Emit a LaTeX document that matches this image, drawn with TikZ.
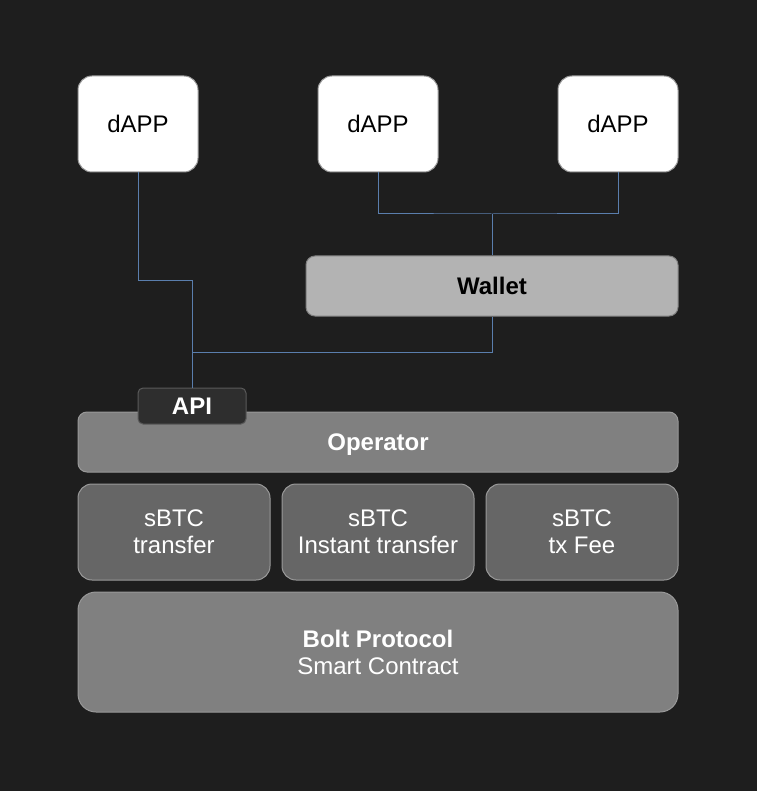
\documentclass[tikz,border=0pt]{standalone}
\usepackage{fontspec}
\setmainfont{Liberation Sans}
\definecolor{bg}{HTML}{1E1E1E}
\definecolor{wire}{HTML}{5A7EAD}
\definecolor{walletfill}{HTML}{B3B3B3}
\definecolor{opfill}{HTML}{808080}
\definecolor{sbtcfill}{HTML}{666666}
\definecolor{apifill}{HTML}{2E2E2E}
\definecolor{edgegray}{HTML}{999999}
\definecolor{darkedge}{HTML}{5A5A5A}
\tikzset{
  box/.style={rectangle, draw=edgegray, line width=1pt, inner sep=0pt, align=center,
    font=\fontsize{24}{27}\selectfont},
  dapp/.style={box, fill=white, text=black, minimum width=120pt, minimum height=96pt, rounded corners=14pt},
  wallet/.style={box, fill=walletfill, draw=opfill, text=black, font=\fontsize{24}{27}\selectfont\bfseries, minimum width=372pt, minimum height=60pt, rounded corners=9pt},
  layer/.style={box, fill=opfill, draw=edgegray, text=white},
  sbtc/.style={box, fill=sbtcfill, draw=edgegray, text=white, minimum width=192pt, minimum height=96pt, rounded corners=14pt},
  apibox/.style={box, fill=apifill, draw=darkedge, text=white, font=\fontsize{24}{27}\selectfont\bfseries, minimum width=108pt, minimum height=36pt, rounded corners=5pt},
  wireline/.style={draw=wire, line width=1pt}
}
\begin{document}
\begin{tikzpicture}[x=1pt,y=-1pt]
\useasboundingbox (0,0) rectangle (756,791);
\fill[bg] (-6,-6) rectangle (762,797);
% dApps
\node[dapp] (d1) at (138,124) {dAPP};
\node[dapp] (d2) at (378,124) {dAPP};
\node[dapp] (d3) at (618,124) {dAPP};
% wallet
\node[wallet] (wallet) at (492,286) {Wallet};
% operator and api
\node[layer, minimum width=600pt, minimum height=60pt, rounded corners=9pt, text depth=0pt, font=\fontsize{24}{27}\selectfont\bfseries] (op) at (378,442) {Operator};
\node[apibox] (api) at (192,406) {API};
% sBTC
\node[sbtc] (s1) at (174,532) {sBTC\\transfer};
\node[sbtc] (s2) at (378,532) {sBTC\\Instant transfer};
\node[sbtc] (s3) at (582,532) {sBTC\\tx Fee};
% bolt
\node[layer, minimum width=600pt, minimum height=120pt, rounded corners=18pt] (bolt) at (378,652) {\textbf{Bolt Protocol}\\Smart Contract};
% wires
\coordinate (j1) at (192,280);
\coordinate (j2) at (192,352);
\coordinate (j3) at (492,214);
\draw[wireline] (d1.south) |- (j1) -- (api.north);
\draw[wireline] (wallet.south) |- (j2);
\draw[wireline] (d2.south) |- (j3) -| (d3.south);
\draw[wireline] (j3) -- (wallet.north);
\end{tikzpicture}
\end{document}
